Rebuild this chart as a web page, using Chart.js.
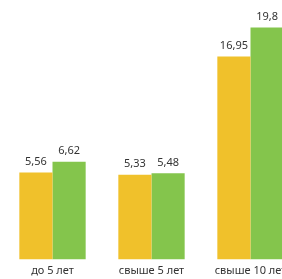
<!DOCTYPE html>
<html>
<head>
<meta charset="utf-8">
<script src="https://cdn.jsdelivr.net/npm/chart.js@4"></script>
<style>
  html, body { margin: 0; padding: 0; background: #fff; overflow: hidden; }
  #wrap { position: relative; width: 300px; height: 296px; }
</style>
</head>
<body>
<div id="wrap"><canvas id="chart"></canvas></div>
<script>
const categories = [['до 5 лет'], ['свыше 5 лет', 'до 10 лет'], ['свыше 10 лет']];
const seriesA = [5.56, 5.33, 16.95];
const seriesB = [6.62, 5.48, 19.8];
const valueLabels = [['5,56', '5,33', '16,95'], ['6,62', '5,48', '19,8']];

const yellow = '#F0C12B';
const green = '#84C54C';

// draws the value above each bar
const barValues = {
    id: 'barValues',
    afterDatasetsDraw(chart) {
        const ctx = chart.ctx;
        ctx.save();
        ctx.font = '11px "Noto Sans"';
        ctx.fillStyle = '#333';
        ctx.textAlign = 'center';
        ctx.textBaseline = 'bottom';
        chart.data.datasets.forEach((ds, i) => {
            chart.getDatasetMeta(i).data.forEach((bar, j) => {
                ctx.fillText(valueLabels[i][j], bar.x, bar.y - 5);
            });
        });
        ctx.restore();
    }
};

new Chart(document.getElementById('chart'), {
    type: 'bar',
    data: {
        labels: categories,
        datasets: [
            { data: seriesA, backgroundColor: yellow, base: -3 },
            { data: seriesB, backgroundColor: green, base: -3 }
        ]
    },
    options: {
        responsive: true,
        maintainAspectRatio: false,
        animation: false,
        layout: { padding: { left: 3, right: 0, top: 0, bottom: 0 } },
        datasets: { bar: { categoryPercentage: 0.67, barPercentage: 1 } },
        plugins: { legend: { display: false }, tooltip: { enabled: false } },
        scales: {
            x: {
                grid: { display: false, drawTicks: false },
                border: { display: false },
                ticks: { color: '#333', font: { family: 'Noto Sans', size: 11 }, padding: 5 }
            },
            y: { display: false, min: -3, max: 22.5 }
        }
    },
    plugins: [barValues]
});
</script>
</body>
</html>
